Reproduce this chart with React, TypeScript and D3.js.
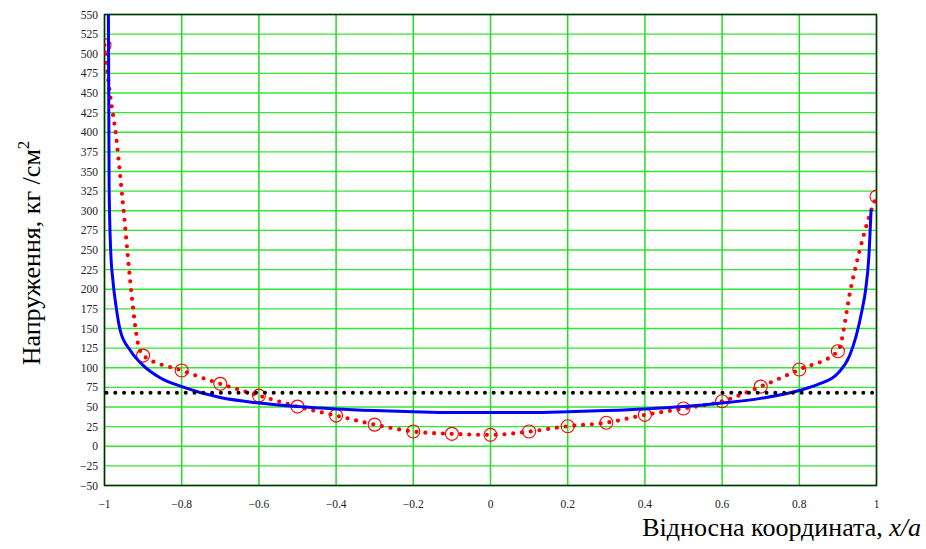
import * as d3 from 'd3';
import React from 'react';

// відносна координата та напруження
const blueX = [-0.99, -0.988, -0.984, -0.978, -0.97, -0.959, -0.933, -0.9, -0.855, -0.8, -0.7, -0.6, -0.5, -0.4, -0.3, -0.2, -0.1, 0,
  0.1, 0.2, 0.3, 0.4, 0.5, 0.6, 0.7, 0.8, 0.85, 0.9, 0.93, 0.947, 0.962, 0.972, 0.98, 0.986];
const blueY = [560, 330, 250, 210, 178, 147, 122, 103, 87, 76, 62, 55, 50.5, 47.5, 45.5, 44, 43, 43,
  43, 44, 45.5, 47.5, 50.5, 55, 61, 71, 79, 93, 115, 140, 172, 200, 240, 302];

const markerX = [-1, -0.9, -0.8, -0.7, -0.6, -0.5, -0.4, -0.3, -0.2, -0.1, 0, 0.1, 0.2, 0.3, 0.4, 0.5, 0.6, 0.7, 0.8, 0.9, 1];
const markerY = [511, 115.5, 96.5, 79.5, 64.5, 50.5, 39, 27.5, 18.7, 15.8, 14.5, 18.7, 25.5, 30, 40, 48, 57.3, 76, 97.7, 121, 318];

// додаткові точки пунктирної кривої на крутих ділянках
const extraX = [-0.984, -0.972, -0.953, -0.928, -0.915, 0.935, 0.977, 0.992];
const extraY = [442, 403, 313, 185, 135, 205, 286, 308];

const averageLevel = 68;

const xTicks = [-1, -0.8, -0.6, -0.4, -0.2, 0, 0.2, 0.4, 0.6, 0.8, 1];
const yTicks = d3.range(-50, 551, 25);

const W = 926;
const H = 549;

function fmt(v: number) {
  const s = String(Math.abs(v));
  return v < 0 ? '\u2212' + s : s;
}

export default function App() {
  const x = d3.scaleLinear().domain([-1, 1]).range([104.5, 876.5]);
  const y = d3.scaleLinear().domain([-50, 550]).range([485.5, 14.5]);

  const smooth = d3.line<[number, number]>()
    .x(d => x(d[0]))
    .y(d => y(d[1]))
    .curve(d3.curveMonotoneX);

  const bluePts = blueX.map((v, i) => [v, blueY[i]] as [number, number]);
  const redPts = markerX.map((v, i) => [v, markerY[i]] as [number, number])
    .concat(extraX.map((v, i) => [v, extraY[i]] as [number, number]))
    .sort((a, b) => a[0] - b[0]);

  const serif = { fontFamily: "'Liberation Serif', 'Times New Roman', Tinos, Times, 'DejaVu Serif', 'Noto Serif', serif" };
  const [x0, x1] = x.range();
  const [y0, y1] = y.range();

  return (
    <svg width={W} height={H} style={{ position: 'absolute', left: 0, top: 0, background: '#fff' }}>
      <defs>
        <clipPath id="plot">
          <rect x={x0} y={y1} width={x1 - x0} height={y0 - y1} />
        </clipPath>
      </defs>

      {/* сітка */}
      {yTicks.map(t => (
        <line key={'h' + t} x1={x0} x2={x1} y1={y(t)} y2={y(t)} stroke="#33e633" strokeWidth={1.3} />
      ))}
      {xTicks.map(t => (
        <line key={'v' + t} x1={x(t)} x2={x(t)} y1={y1} y2={y0} stroke="#22dd22" strokeWidth={1.5} />
      ))}

      {/* рамка */}
      <rect x={x0} y={y1} width={x1 - x0} height={y0 - y1} fill="none" stroke="#0b2a0b" strokeWidth={1.5} />

      <g clipPath="url(#plot)">
        <path d={smooth(redPts) || ''} fill="none" stroke="#ff0000" strokeWidth={4.2}
          strokeDasharray="0 8.8" strokeLinecap="round" />
        {markerX.map((v, i) => (
          <circle key={'c' + i} cx={x(v)} cy={y(markerY[i])} r={6.5} fill="none" stroke="#ff0000" strokeWidth={1.1} />
        ))}
        <path d={smooth(bluePts) || ''} fill="none" stroke="#0000ff" strokeWidth={3} strokeLinejoin="round" />
        <line x1={x(-1) + 2} x2={x(1)} y1={y(averageLevel)} y2={y(averageLevel)} stroke="#000"
          strokeWidth={4} strokeDasharray="0 8.8" strokeLinecap="round" />
      </g>

      {/* підписи осей */}
      {yTicks.map(t => (
        <text key={'yl' + t} x={98} y={y(t) + 4} textAnchor="end" style={serif} fontSize={11.5} fill="#222">
          {fmt(t)}
        </text>
      ))}
      {xTicks.map(t => (
        <text key={'xl' + t} x={x(t)} y={508} textAnchor="middle" style={serif} fontSize={11.5} fill="#222">
          {fmt(t)}
        </text>
      ))}

      <text transform="translate(40,253) rotate(-90)" textAnchor="middle" style={serif} fontSize={26} fill="#000">
        Напруження, кг /см<tspan fontSize={17} dy={-11}>2</tspan>
      </text>
      <text x={921} y={536} textAnchor="end" style={serif} fontSize={26} fill="#000">
        Відносна координата, <tspan fontStyle="italic">x/a</tspan>
      </text>
    </svg>
  );
}
